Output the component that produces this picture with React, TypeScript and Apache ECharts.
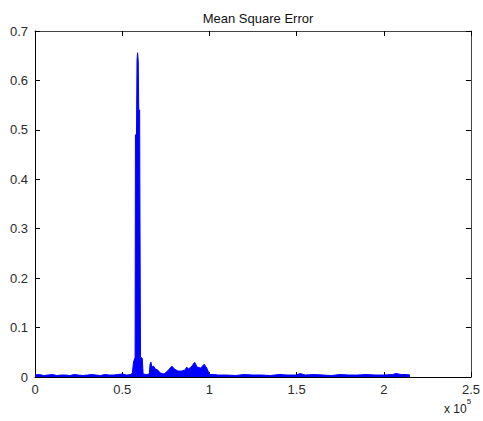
import React, { useEffect, useRef } from "react";
import * as echarts from "echarts";

// x in units of 10^5 samples, y = mean square error
const baseX1 = [0, 0.025, 0.05, 0.075, 0.1, 0.125, 0.15, 0.175, 0.2, 0.225, 0.25, 0.275, 0.3, 0.325, 0.35, 0.375, 0.4, 0.425, 0.45, 0.475, 0.5, 0.525, 0.55];
const baseY1 = [0.004, 0.005, 0.003, 0.004, 0.005, 0.003, 0.004, 0.004, 0.003, 0.005, 0.004, 0.003, 0.004, 0.005, 0.004, 0.003, 0.005, 0.004, 0.004, 0.005, 0.006, 0.004, 0.005];
const peakX = [0.558, 0.565, 0.574, 0.576, 0.582, 0.585, 0.588, 0.592, 0.595, 0.6, 0.602, 0.605, 0.615, 0.62, 0.64];
const peakY = [0.008, 0.03, 0.04, 0.49, 0.49, 0.64, 0.656, 0.64, 0.54, 0.54, 0.32, 0.04, 0.038, 0.006, 0.005];
const bumpX = [0.655, 0.66, 0.665, 0.67, 0.68, 0.69, 0.7, 0.72, 0.74, 0.76, 0.775, 0.785, 0.8, 0.82, 0.84, 0.86, 0.87, 0.88, 0.9, 0.915, 0.93, 0.95, 0.97, 0.985, 0.995, 1.0];
const bumpY = [0.006, 0.026, 0.03, 0.02, 0.022, 0.016, 0.015, 0.008, 0.006, 0.012, 0.018, 0.022, 0.016, 0.012, 0.012, 0.014, 0.02, 0.016, 0.022, 0.03, 0.02, 0.018, 0.026, 0.018, 0.01, 0.005];
const baseX2 = [1.025, 1.05, 1.1, 1.15, 1.2, 1.25, 1.3, 1.35, 1.4, 1.45, 1.5, 1.52, 1.55, 1.6, 1.65, 1.7, 1.75, 1.8, 1.85, 1.9, 1.95, 2.0, 2.05, 2.07, 2.1, 2.13, 2.15];
const baseY2 = [0.005, 0.004, 0.004, 0.003, 0.005, 0.004, 0.004, 0.003, 0.005, 0.004, 0.004, 0.007, 0.004, 0.005, 0.004, 0.003, 0.005, 0.004, 0.004, 0.005, 0.004, 0.004, 0.005, 0.007, 0.005, 0.005, 0.004];

const xTicks = [0, 0.5, 1, 1.5, 2, 2.5];
const yTicks = [0, 0.1, 0.2, 0.3, 0.4, 0.5, 0.6, 0.7];

export default function App() {
  const ref = useRef<HTMLDivElement>(null);
  useEffect(() => {
    const chart = echarts.init(ref.current!, null, { renderer: "svg" });
    const xs = [...baseX1, ...peakX, ...bumpX, ...baseX2];
    const ys = [...baseY1, ...peakY, ...bumpY, ...baseY2];
    const data = xs.map((x, i) => [x, ys[i]]);
    const font = "Liberation Sans, Arial, sans-serif";
    const labelStyle = { color: "#2a2a2a", fontSize: 13, fontFamily: font };
    const lineStyle = { color: "#000", width: 1 };
    const boxLine = { color: "#444", width: 1 };
    chart.setOption({
      animation: false,
      backgroundColor: "#fff",
      title: {
        text: "Mean Square Error",
        left: 253,
        top: 7,
        textAlign: "center",
        textStyle: { fontSize: 13, fontWeight: "normal", color: "#111", fontFamily: font },
      },
      grid: { left: 35, top: 31, width: 440, height: 346 },
      xAxis: [
        {
          type: "value",
          min: xTicks[0],
          max: xTicks[xTicks.length - 1],
          interval: 0.5,
          axisLine: { show: true, onZero: false, lineStyle },
          axisTick: { show: true, inside: true, length: 5, lineStyle },
          axisLabel: { ...labelStyle, margin: 6 },
          splitLine: { show: false },
        },
        {
          type: "value",
          position: "top",
          min: 0,
          max: 2.5,
          interval: 0.5,
          axisLine: { show: true, onZero: false, lineStyle: boxLine },
          axisTick: { show: true, inside: true, length: 5, lineStyle },
          axisLabel: { show: false },
          splitLine: { show: false },
        },
      ],
      yAxis: [
        {
          type: "value",
          min: yTicks[0],
          max: yTicks[yTicks.length - 1],
          interval: 0.1,
          axisLine: { show: true, onZero: false, lineStyle },
          axisTick: { show: true, inside: true, length: 5, lineStyle },
          axisLabel: { ...labelStyle, margin: 7 },
          splitLine: { show: false },
        },
        {
          type: "value",
          position: "right",
          min: 0,
          max: 0.7,
          interval: 0.1,
          axisLine: { show: true, onZero: false, lineStyle: boxLine },
          axisTick: { show: true, inside: true, length: 5, lineStyle },
          axisLabel: { show: false },
          splitLine: { show: false },
        },
      ],
      graphic: [
        {
          type: "text",
          left: 444,
          top: 397,
          style: {
            text: "{a|x 10}{b|5}",
            rich: {
              a: { fontSize: 12, fill: "#222", fontFamily: font, padding: [6, 0, 0, 0] },
              b: { fontSize: 8, fill: "#222", fontFamily: font, verticalAlign: "top" },
            },
          },
        },
      ],
      series: [
        {
          type: "line",
          data,
          showSymbol: false,
          symbol: "none",
          lineStyle: { color: "#0000ff", width: 1 },
          areaStyle: { color: "#0000ff", opacity: 1 },
          z: 1,
        },
      ],
    });
    return () => chart.dispose();
  }, []);
  return (
    <div
      ref={ref}
      style={{ position: "fixed", left: 0, top: 0, width: 483, height: 421, background: "#fff" }}
    />
  );
}
